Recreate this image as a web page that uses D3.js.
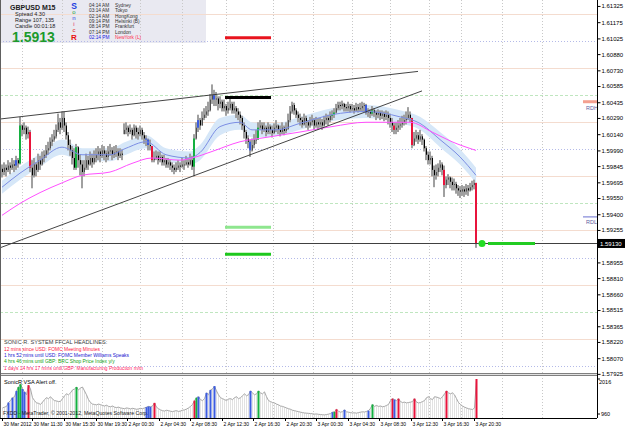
<!DOCTYPE html>
<html>
<head>
<meta charset="utf-8">
<script src="https://cdn.jsdelivr.net/npm/d3@7"></script>
<style>
  body { margin: 0; background: #fff; }
  svg text { font-family: "Liberation Sans", Arial, sans-serif; }
</style>
</head>
<body>
<svg id="chart" width="625" height="429"></svg>
<script>
// GBPUSD M15 bars (open = previous close)
const closes = [
  1.5979,1.5983,1.5981,1.5985,1.5983,1.5986,1.5985,1.5990,1.5987,1.6022,
  1.6018,1.6020,1.6014,1.6016,1.5983,1.5976,1.5986,1.5981,1.5990,1.5986,
  1.5992,1.5995,1.5999,1.6001,1.6007,1.6009,1.6012,1.6018,1.6025,1.6020,
  1.6029,1.6022,1.6013,1.6004,1.5999,1.5992,1.5983,1.6002,1.5990,1.5986,
  1.5979,1.5983,1.5990,1.5986,1.5992,1.5988,1.5992,1.5995,1.5998,1.5994,
  1.5999,1.5996,1.5993,1.5998,1.5999,1.5995,1.5997,1.5998,1.5994,1.5996,
  1.5995,1.6018,1.6020,1.6016,1.6018,1.6013,1.6020,1.6016,1.6014,1.6018,
  1.6013,1.6010,1.6009,1.6004,1.6003,1.5990,1.5992,1.5994,1.5990,1.5993,
  1.5988,1.5990,1.5986,1.5988,1.5985,1.5983,1.5981,1.5983,1.5985,1.5984,
  1.5986,1.5986,1.5988,1.5986,1.5990,1.5984,1.6010,1.6020,1.6027,1.6022,
  1.6029,1.6032,1.6035,1.6036,1.6046,1.6050,1.6046,1.6047,1.6042,1.6044,
  1.6038,1.6040,1.6036,1.6038,1.6042,1.6036,1.6038,1.6035,1.6032,1.6029,
  1.6022,1.6016,1.6010,1.6007,1.5999,1.6004,1.6009,1.6009,1.6020,1.6022,
  1.6018,1.6020,1.6016,1.6021,1.6018,1.6015,1.6020,1.6022,1.6018,1.6016,
  1.6020,1.6017,1.6019,1.6027,1.6035,1.6041,1.6036,1.6032,1.6029,1.6027,
  1.6023,1.6029,1.6025,1.6022,1.6025,1.6027,1.6022,1.6025,1.6023,1.6025,
  1.6022,1.6027,1.6029,1.6027,1.6031,1.6032,1.6034,1.6038,1.6041,1.6040,
  1.6042,1.6039,1.6038,1.6040,1.6037,1.6038,1.6036,1.6039,1.6037,1.6038,
  1.6040,1.6041,1.6034,1.6035,1.6033,1.6036,1.6034,1.6032,1.6034,1.6031,
  1.6033,1.6030,1.6032,1.6029,1.6025,1.6022,1.6018,1.6020,1.6022,1.6023,
  1.6025,1.6027,1.6029,1.6032,1.6029,1.6004,1.6010,1.6013,1.6009,1.6012,
  1.6009,1.6001,1.5995,1.5990,1.5992,1.5981,1.5976,1.5979,1.5983,1.5986,
  1.5981,1.5967,1.5972,1.5974,1.5970,1.5967,1.5968,1.5964,1.5962,1.5961,
  1.5963,1.5961,1.5964,1.5962,1.5965,1.5967,1.5969,1.5913
];
const highs = [
  1.5986,1.5988,1.5986,1.5990,1.5988,1.5992,1.5990,1.5994,1.5992,1.6030,
  1.6023,1.6025,1.6022,1.6021,1.6018,1.5990,1.5992,1.5988,1.5996,1.5994,
  1.5998,1.5999,1.6004,1.6007,1.6011,1.6014,1.6018,1.6023,1.6033,1.6029,
  1.6035,1.6035,1.6025,1.6016,1.6009,1.6003,1.6001,1.6005,1.6003,1.5995,
  1.5990,1.5990,1.5996,1.5994,1.5998,1.5996,1.5999,1.6001,1.6003,1.6001,
  1.6004,1.6003,1.5999,1.6003,1.6005,1.6002,1.6003,1.6004,1.6001,1.6001,
  1.6000,1.6024,1.6025,1.6022,1.6023,1.6020,1.6023,1.6022,1.6020,1.6022,
  1.6020,1.6016,1.6013,1.6010,1.6009,1.6003,1.5998,1.5999,1.5998,1.5998,
  1.5995,1.5995,1.5992,1.5992,1.5990,1.5988,1.5986,1.5988,1.5990,1.5988,
  1.5992,1.5990,1.5994,1.5992,1.5996,1.5994,1.6014,1.6025,1.6032,1.6029,
  1.6035,1.6038,1.6040,1.6044,1.6051,1.6060,1.6055,1.6053,1.6049,1.6049,
  1.6046,1.6046,1.6042,1.6044,1.6047,1.6044,1.6044,1.6040,1.6038,1.6035,
  1.6031,1.6025,1.6018,1.6013,1.6009,1.6010,1.6014,1.6018,1.6025,1.6027,
  1.6025,1.6025,1.6022,1.6025,1.6023,1.6022,1.6024,1.6027,1.6023,1.6022,
  1.6025,1.6022,1.6025,1.6033,1.6040,1.6044,1.6043,1.6038,1.6035,1.6033,
  1.6030,1.6033,1.6031,1.6027,1.6030,1.6032,1.6029,1.6030,1.6029,1.6029,
  1.6028,1.6031,1.6033,1.6032,1.6035,1.6036,1.6038,1.6042,1.6044,1.6044,
  1.6045,1.6043,1.6042,1.6044,1.6042,1.6042,1.6041,1.6043,1.6042,1.6043,
  1.6044,1.6043,1.6042,1.6038,1.6037,1.6040,1.6038,1.6036,1.6037,1.6036,
  1.6036,1.6035,1.6036,1.6035,1.6033,1.6029,1.6025,1.6025,1.6027,1.6029,
  1.6031,1.6032,1.6035,1.6039,1.6035,1.6029,1.6016,1.6018,1.6016,1.6018,
  1.6014,1.6010,1.6003,1.5998,1.5998,1.5994,1.5985,1.5986,1.5987,1.5990,
  1.5988,1.5985,1.5975,1.5977,1.5975,1.5974,1.5973,1.5970,1.5967,1.5966,
  1.5967,1.5966,1.5968,1.5967,1.5969,1.5971,1.5972,1.5969
];
const lows = [
  1.5974,1.5976,1.5975,1.5979,1.5977,1.5981,1.5979,1.5981,1.5983,1.5986,
  1.6012,1.6014,1.6009,1.6010,1.5979,1.5964,1.5974,1.5975,1.5979,1.5981,
  1.5985,1.5988,1.5992,1.5995,1.5999,1.6003,1.6007,1.6010,1.6016,1.6014,
  1.6018,1.6016,1.6009,1.5999,1.5994,1.5986,1.5981,1.5981,1.5983,1.5976,
  1.5964,1.5975,1.5981,1.5981,1.5985,1.5983,1.5986,1.5988,1.5990,1.5988,
  1.5992,1.5990,1.5988,1.5990,1.5994,1.5990,1.5992,1.5993,1.5990,1.5992,
  1.5990,1.6014,1.6014,1.6012,1.6014,1.6009,1.6012,1.6010,1.6009,1.6012,
  1.6009,1.6005,1.6003,1.5999,1.5999,1.5988,1.5988,1.5990,1.5986,1.5988,
  1.5985,1.5985,1.5983,1.5983,1.5981,1.5979,1.5977,1.5979,1.5981,1.5979,
  1.5983,1.5981,1.5985,1.5983,1.5985,1.5981,1.5975,1.6009,1.6016,1.6018,
  1.6022,1.6027,1.6029,1.6031,1.6035,1.6042,1.6040,1.6040,1.6036,1.6038,
  1.6035,1.6035,1.6031,1.6033,1.6036,1.6033,1.6033,1.6029,1.6027,1.6023,
  1.6018,1.6010,1.6005,1.6001,1.5993,1.5998,1.6001,1.6005,1.6009,1.6018,
  1.6014,1.6016,1.6012,1.6014,1.6014,1.6011,1.6014,1.6016,1.6014,1.6012,
  1.6014,1.6013,1.6015,1.6018,1.6025,1.6033,1.6032,1.6029,1.6025,1.6022,
  1.6020,1.6022,1.6020,1.6018,1.6020,1.6022,1.6018,1.6020,1.6018,1.6020,
  1.6018,1.6021,1.6023,1.6022,1.6025,1.6027,1.6029,1.6033,1.6036,1.6036,
  1.6037,1.6035,1.6035,1.6035,1.6034,1.6035,1.6033,1.6035,1.6034,1.6035,
  1.6035,1.6035,1.6032,1.6030,1.6029,1.6031,1.6030,1.6027,1.6029,1.6027,
  1.6028,1.6026,1.6027,1.6023,1.6020,1.6016,1.6014,1.6014,1.6016,1.6018,
  1.6020,1.6022,1.6023,1.6027,1.6025,1.6001,1.6003,1.6007,1.6005,1.6007,
  1.6004,1.5998,1.5990,1.5986,1.5986,1.5975,1.5965,1.5972,1.5975,1.5979,
  1.5976,1.5956,1.5964,1.5967,1.5964,1.5962,1.5962,1.5959,1.5957,1.5955,
  1.5957,1.5956,1.5958,1.5957,1.5961,1.5962,1.5963,1.5909
];
const firstOpen = 1.5982;

// VSA colouring of candles (bar indices)
const blueBars = [7, 72, 73, 98, 106, 124, 182];
const greenBars = [9, 37, 96, 128, 165, 166, 185];
const redBars = [14, 75, 196, 205, 221, 237];

// SonicR VSA volume per bar
const volumes = [
  520,560,600,800,900,1050,1100,1400,1600,1750,
  1500,1350,1200,1700,1500,1050,900,780,760,700,
  820,950,1050,1000,1100,980,900,880,850,860,
  1000,1150,1250,1200,1300,1450,1500,1600,1450,1550,
  1600,1400,1200,950,800,720,700,680,720,690,
  650,620,660,600,580,620,560,540,560,520,
  500,480,520,500,470,500,480,450,470,500,
  480,520,560,600,580,620,780,560,480,420,
  380,360,400,380,350,330,360,380,340,360,
  400,420,460,520,600,700,900,1050,1100,950,
  900,1000,1300,1200,1450,1500,1650,1400,1200,1050,
  1000,950,900,980,1000,950,1050,1100,1000,1050,
  1150,1250,1150,1200,1400,1300,1200,1250,1400,1300,
  1250,1350,1100,900,850,800,780,720,680,620,
  600,560,520,480,450,400,380,350,330,300,
  280,260,250,240,230,220,200,210,190,180,
  170,160,180,200,230,300,320,450,350,300,
  330,420,320,300,280,260,270,250,280,300,
  320,310,340,380,500,700,600,650,600,620,
  580,600,650,700,900,1000,950,900,1000,850,
  800,820,780,800,820,850,1000,820,780,800,
  850,900,1050,1100,1000,950,1100,1080,1050,1000,
  1100,1250,1400,1300,1250,1300,1200,1000,800,700,
  620,560,520,480,460,440,520,2016
];
const volBlue = [3, 5, 7, 10, 11, 72, 73, 74, 98, 102, 104, 106, 124, 165, 171, 183, 196];
const volGreen = [8, 9, 37, 97, 128, 166, 185];
const volRed = [13, 76, 96, 167, 195, 198, 206, 222, 237];

// Sonic R dragon (EMA34 of high / close / low) and EMA89, sampled
const dragonIdx = [0, 9, 19, 30, 40, 54, 62, 72, 82, 94, 99, 109, 119, 125, 137, 149, 165, 182, 199, 209, 219, 229, 237];
const dragonMid = [1.5965,1.5978,1.5990,1.6002,1.5995,1.5995,1.6001,1.6007,1.5995,1.5992,1.5997,1.6021,1.6025,1.6018,1.6018,1.6024,1.6032,1.6035,1.6030,1.6024,1.6009,1.5993,1.5976];
const dragonHigh = [1.5971,1.5984,1.5996,1.6009,1.6001,1.6001,1.6007,1.6013,1.6001,1.5998,1.6004,1.6029,1.6032,1.6025,1.6024,1.6030,1.6038,1.6041,1.6036,1.6030,1.6016,1.6000,1.5983];
const dragonLow = [1.5959,1.5972,1.5984,1.5995,1.5989,1.5989,1.5995,1.6001,1.5989,1.5986,1.5990,1.6013,1.6018,1.6011,1.6012,1.6018,1.6026,1.6029,1.6024,1.6018,1.6002,1.5986,1.5969];
const ema89Idx = [0, 9, 19, 30, 40, 54, 65, 75, 89, 95, 105, 119, 132, 149, 165, 182, 195, 204, 215, 225, 237];
const ema89 = [1.5939,1.5950,1.5960,1.5969,1.5976,1.5979,1.5987,1.5992,1.5990,1.5992,1.5998,1.6007,1.6011,1.6016,1.6021,1.6025,1.6025,1.6025,1.6016,1.6007,1.5999];

// quarter levels drawn across the chart
const levels = [1.6125, 1.6100, 1.6075, 1.6050, 1.6025, 1.6000, 1.5975, 1.5950, 1.5925, 1.5900, 1.5875, 1.5850, 1.5825, 1.5800];
const levelKinds = ['q', 'w', 'q', 'h', 'q', 'w', 'q', 'h', 'q', 'w', 'q', 'h', 'q', 'w'];

// trend lines: [bar, price] -> [bar, price]
const trendUpper = [[-1, 1.6028], [208, 1.6072]];
const trendLower = [[-1, 1.5909], [210, 1.6054]];

// daily projection marks
const markBars = [111.5, 134.5];
const markPrices = [1.6103, 1.6048, 1.5928, 1.5903];
const markColors = ['#e8141e', '#000000', '#8ee68e', '#1ec81e'];

const bidPrice = 1.5913;
const rdh = 1.6044, rdl = 1.5938;

const priceTicks = [1.61325, 1.61175, 1.61025, 1.60880, 1.60730, 1.60585, 1.60435, 1.60290, 1.60140, 1.59990,
  1.59845, 1.59695, 1.59550, 1.59400, 1.59255, 1.58955, 1.58810, 1.58660, 1.58515, 1.58365, 1.58220, 1.58070, 1.57925];
const timeTickBars = [0, 15, 31, 47, 62.5, 78.5, 94, 110, 125.5, 141.5, 157, 173, 188.5, 204.5, 220, 236];
const timeLabels = ['30 Mar 2012', '30 Mar 11:30', '30 Mar 15:30', '30 Mar 19:30', '2 Apr 00:30', '2 Apr 04:30',
  '2 Apr 08:30', '2 Apr 12:30', '2 Apr 16:30', '2 Apr 20:30', '3 Apr 00:30', '3 Apr 04:30', '3 Apr 08:30',
  '3 Apr 12:30', '3 Apr 16:30', '3 Apr 20:30'];
const gridBars = [10, 30, 50, 69, 90, 112, 135.5, 155.5, 175, 194, 213.5, 229.5, 250, 270];

const sessionTimes = ['04:14 AM', '03:14 AM', '02:14 AM', '09:14 PM', '08:14 PM', '07:14 PM', '02:14 PM'];
const sessionCities = ['Sydney', 'Tokyo', 'HongKong', 'Helsinki  (B)', 'Frankfurt', 'London', 'NewYork  (L)'];
const headlines = [
  '12 mins since USD: FOMC Meeting Minutes',
  '1 hrs 52 mins until USD: FOMC Member Williams Speaks',
  '4 hrs 46 mins until GBP: BRC Shop Price Index y/y',
  '1 days 14 hrs 17 mins until GBP: Manufacturing Production m/m'
];
const headlineColors = ['#ff2040', '#2020d0', '#10a010', '#ff2060'];

// ---------------------------------------------------------------
const svg = d3.select('#chart');
const plotRight = 597, priceBottom = 373, volTop = 377, volBottom = 418;

const x = d3.scaleLinear().domain([0, 237]).range([2, 476]);
const y = d3.scaleLinear().domain([1.57933, 1.6138]).range([priceBottom, 0]);
const yv = d3.scaleLinear().domain([0, 2016]).range([volBottom, volTop + 2]);

svg.append('rect').attr('width', 625).attr('height', 429).attr('fill', '#ffffff');

// info box
svg.append('rect').attr('x', 0).attr('y', 0).attr('width', 206).attr('height', 43).attr('fill', '#e9e9f1');

const plot = svg.append('g');

// vertical grid
plot.selectAll('line.grid').data(gridBars).enter().append('line')
  .attr('x1', d => Math.round(x(d)) + 0.5).attr('x2', d => Math.round(x(d)) + 0.5)
  .attr('y1', 0).attr('y2', volBottom)
  .attr('stroke', '#c8c8c8').attr('stroke-dasharray', '1,2');

// level lines
const levelStyle = {
  q: {stroke: '#f4dccf', dash: null},
  w: {stroke: '#b4bae8', dash: '1,2'},
  h: {stroke: '#bfe6bf', dash: '3,2'}
};
plot.selectAll('line.level').data(levels).enter().append('line')
  .attr('x1', 0).attr('x2', plotRight)
  .attr('y1', d => Math.round(y(d)) + 0.5).attr('y2', d => Math.round(y(d)) + 0.5)
  .attr('stroke', (d, i) => levelStyle[levelKinds[i]].stroke)
  .attr('stroke-dasharray', (d, i) => levelStyle[levelKinds[i]].dash);

// dragon band
const band = d3.area()
  .x((d, i) => x(dragonIdx[i]))
  .y0((d, i) => y(dragonLow[i]))
  .y1((d, i) => y(dragonHigh[i]))
  .curve(d3.curveMonotoneX);
plot.append('path').datum(dragonIdx).attr('d', band).attr('fill', '#d6e7f8');

// candles
const bars = closes.map((c, i) => ({
  i, c, h: highs[i], l: lows[i], o: i === 0 ? firstOpen : closes[i - 1]
}));
const colourOf = d => blueBars.includes(d.i) ? '#3c5ce0'
  : greenBars.includes(d.i) ? '#14b040'
  : redBars.includes(d.i) ? '#e8143c' : null;

const candles = plot.append('g');
candles.selectAll('rect.wick').data(bars).enter().append('rect')
  .attr('x', d => Math.round(x(d.i)) - 1)
  .attr('width', 2)
  .attr('y', d => y(d.h))
  .attr('height', d => Math.max(1, y(d.l) - y(d.h)))
  .attr('fill', '#a0a0a0');
candles.selectAll('rect.body').data(bars).enter().append('rect')
  .attr('x', d => Math.round(x(d.i)) - (colourOf(d) ? 1 : 0))
  .attr('width', d => colourOf(d) ? 2 : 1)
  .attr('y', d => y(Math.min(Math.max(d.o, d.c), d.h)))
  .attr('height', d => Math.max(1, y(Math.max(Math.min(d.o, d.c), d.l)) - y(Math.min(Math.max(d.o, d.c), d.h))))
  .attr('fill', d => colourOf(d) || (d.c >= d.o ? '#505050' : '#000000'));

// moving averages
const midLine = d3.line().x((d, i) => x(dragonIdx[i])).y(d => y(d)).curve(d3.curveMonotoneX);
plot.append('path').datum(dragonMid).attr('d', midLine)
  .attr('fill', 'none').attr('stroke', '#7c8ee4').attr('stroke-width', 1);
const slowLine = d3.line().x((d, i) => x(ema89Idx[i])).y(d => y(d)).curve(d3.curveMonotoneX);
plot.append('path').datum(ema89).attr('d', slowLine)
  .attr('fill', 'none').attr('stroke', '#ff50ff').attr('stroke-width', 1);

// trend lines
[trendUpper, trendLower].forEach(t => {
  plot.append('line')
    .attr('x1', x(t[0][0])).attr('y1', y(t[0][1]))
    .attr('x2', x(t[1][0])).attr('y2', y(t[1][1]))
    .attr('stroke', '#303030').attr('stroke-width', 0.9);
});

// bid line
plot.append('line').attr('x1', 0).attr('x2', plotRight)
  .attr('y1', Math.round(y(bidPrice)) + 0.5).attr('y2', Math.round(y(bidPrice)) + 0.5)
  .attr('stroke', '#404040');

// projection marks
plot.selectAll('line.mark').data(markPrices).enter().append('line')
  .attr('x1', x(markBars[0])).attr('x2', x(markBars[1]))
  .attr('y1', d => y(d)).attr('y2', d => y(d))
  .attr('stroke', (d, i) => markColors[i]).attr('stroke-width', 3);

// current marker
plot.append('circle').attr('cx', x(240)).attr('cy', y(bidPrice)).attr('r', 3.5).attr('fill', '#22dd22');
plot.append('line').attr('x1', x(243)).attr('x2', x(266.5))
  .attr('y1', y(bidPrice)).attr('y2', y(bidPrice)).attr('stroke', '#22cc22').attr('stroke-width', 3);

// RDH / RDL
plot.append('line').attr('x1', x(290.5)).attr('x2', plotRight).attr('y1', y(rdh)).attr('y2', y(rdh))
  .attr('stroke', '#f4a090').attr('stroke-width', 3);
plot.append('text').attr('x', x(292)).attr('y', y(rdh) + 8).text('RDH')
  .attr('font-size', 5.5).attr('fill', '#6060a0');
plot.append('line').attr('x1', x(290.5)).attr('x2', plotRight).attr('y1', y(rdl) + 0.5).attr('y2', y(rdl) + 0.5)
  .attr('stroke', '#6a70d0').attr('stroke-width', 1);
plot.append('text').attr('x', x(292)).attr('y', y(rdl) + 8).text('RDL')
  .attr('font-size', 5.5).attr('fill', '#6060a0');

// volume pane
const vol = svg.append('g');
vol.selectAll('line.vb').data(volumes).enter().append('line')
  .attr('x1', (d, i) => Math.round(x(i)) + 0.5).attr('x2', (d, i) => Math.round(x(i)) + 0.5)
  .attr('y1', volBottom).attr('y2', d => yv(d))
  .attr('stroke', '#e2e2e2');
vol.append('path').datum(volumes)
  .attr('d', d3.line().x((d, i) => x(i) + 0.5).y(d => yv(d)))
  .attr('fill', 'none').attr('stroke', '#a8a8a8').attr('stroke-width', 1);
const volColour = i => volBlue.includes(i) ? '#3c5ce0' : volGreen.includes(i) ? '#14b040' : volRed.includes(i) ? '#e8143c' : null;
vol.selectAll('rect.vc').data(volumes.map((v, i) => ({v, i})).filter(d => volColour(d.i))).enter().append('rect')
  .attr('x', d => Math.round(x(d.i)) - 0.5).attr('width', 2)
  .attr('y', d => yv(d.v)).attr('height', d => volBottom - yv(d.v))
  .attr('fill', d => volColour(d.i));

// separators and frame
svg.append('rect').attr('x', 0).attr('y', priceBottom).attr('width', plotRight).attr('height', 3).attr('fill', '#808080');
svg.append('line').attr('x1', 0).attr('x2', plotRight).attr('y1', priceBottom + 1.5).attr('y2', priceBottom + 1.5).attr('stroke', '#e0e0e0');
svg.append('line').attr('x1', 0.5).attr('x2', 0.5).attr('y1', 0).attr('y2', volBottom).attr('stroke', '#606060');
svg.append('line').attr('x1', 0).attr('x2', plotRight).attr('y1', volBottom + 0.5).attr('y2', volBottom + 0.5).attr('stroke', '#000');

// price axis
const yAxis = d3.axisRight(y).tickValues(priceTicks).tickFormat(d3.format('.5f')).tickSize(3).tickPadding(1);
const ya = svg.append('g').attr('transform', `translate(${plotRight + 0.5},0)`).call(yAxis);
ya.select('.domain').attr('d', `M0,0V${volBottom}`).attr('stroke', '#000');
ya.selectAll('text').attr('font-size', 6).attr('fill', '#000');

// bid price box
svg.append('rect').attr('x', plotRight + 1).attr('y', y(bidPrice) - 4.5).attr('width', 28).attr('height', 9).attr('fill', '#000');
svg.append('text').attr('x', plotRight + 3).attr('y', y(bidPrice) + 2.2).text(d3.format('.5f')(bidPrice))
  .attr('font-size', 6).attr('fill', '#fff');

// volume scale labels
svg.append('line').attr('x1', plotRight).attr('x2', plotRight + 3).attr('y1', volTop + 2).attr('y2', volTop + 2).attr('stroke', '#000');
svg.append('text').attr('x', plotRight + 2).attr('y', volTop + 7).text('2016').attr('font-size', 5.5);
svg.append('line').attr('x1', plotRight).attr('x2', plotRight + 3).attr('y1', volBottom - 4).attr('y2', volBottom - 4).attr('stroke', '#000');
svg.append('text').attr('x', plotRight + 4).attr('y', volBottom - 2).text('960').attr('font-size', 5.5);

// time axis
const xAxis = d3.axisBottom(x).tickValues(timeTickBars).tickFormat((d, i) => timeLabels[i]).tickSize(3).tickPadding(1);
const xa = svg.append('g').attr('transform', `translate(0,${volBottom})`).call(xAxis);
xa.select('.domain').remove();
xa.selectAll('text').attr('text-anchor', 'start').attr('dx', 1).attr('font-size', 5).attr('fill', '#000');

// volume pane titles
svg.append('text').attr('x', 4).attr('y', volTop + 7).text('SonicR VSA    Alert off.').attr('font-size', 5.6).attr('fill', '#000');
svg.append('text').attr('x', 3).attr('y', volBottom - 3).text('FXDD - MetaTrader, \u00a9 2001-2012, MetaQuotes Software Corp.')
  .attr('font-size', 5.2).attr('fill', '#202020');

// headlines
svg.append('text').attr('x', 4).attr('y', 344).text('SONIC R. SYSTEM  FFCAL HEADLINES:')
  .attr('font-size', 5.6).attr('fill', '#404040');
svg.selectAll('text.hl').data(headlines).enter().append('text')
  .attr('x', 4).attr('y', (d, i) => 351 + i * 6.2).text(d => d)
  .attr('font-size', 4.9).attr('fill', (d, i) => headlineColors[i]);

// info panel
svg.append('text').attr('x', 10).attr('y', 10).text('GBPUSD  M15').attr('font-size', 7).attr('font-weight', 'bold').attr('fill', '#202020');
svg.append('text').attr('x', 15).attr('y', 16).text('Spread    4.30').attr('font-size', 5.5).attr('fill', '#202020');
svg.append('text').attr('x', 15).attr('y', 22).text('Range    107, 135').attr('font-size', 5.5).attr('fill', '#202020');
svg.append('text').attr('x', 15).attr('y', 28).text('Candle   00:01:18').attr('font-size', 5.5).attr('fill', '#202020');
svg.append('text').attr('x', 12).attr('y', 42).text(d3.format('.4f')(bidPrice)).attr('font-size', 14).attr('font-weight', 'bold').attr('fill', '#1c9a2c');

const sonic = [['S', '#2040e0', 8.5, 8.5, 'bold'], ['o', '#20a040', 6, 14, 'normal'], ['n', '#2040e0', 6, 20, 'normal'],
  ['i', '#e02060', 6, 26, 'normal'], ['c', '#e02020', 6, 32, 'normal'], ['R', '#e81010', 8, 40, 'bold']];
svg.selectAll('text.sonic').data(sonic).enter().append('text')
  .attr('x', 74).attr('y', d => d[3]).attr('text-anchor', 'middle').text(d => d[0])
  .attr('font-size', d => d[2]).attr('font-weight', d => d[4]).attr('fill', d => d[1]);

svg.selectAll('text.st').data(sessionTimes).enter().append('text')
  .attr('x', 89).attr('y', (d, i) => 7 + i * 5.35).text(d => d)
  .attr('font-size', 4.8).attr('fill', (d, i) => i === 6 ? '#2020e0' : '#303030');
svg.selectAll('text.sc').data(sessionCities).enter().append('text')
  .attr('x', 115).attr('y', (d, i) => 7 + i * 5.35).text(d => d)
  .attr('font-size', 4.8).attr('fill', (d, i) => i === 6 ? '#ff3050' : '#303030');
</script>
</body>
</html>
